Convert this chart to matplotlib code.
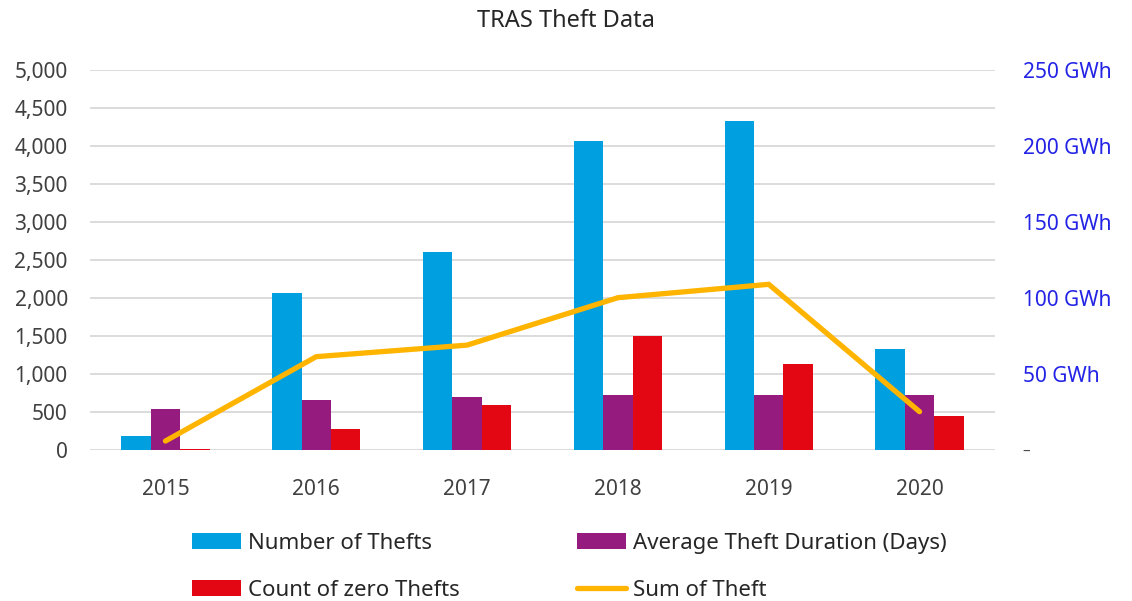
import matplotlib
matplotlib.use("Agg")
import matplotlib.pyplot as plt
from matplotlib.ticker import FuncFormatter, MultipleLocator
import numpy as np

plt.rcParams['font.family'] = ['Noto Sans', 'DejaVu Sans']

# data
years = ['2015', '2016', '2017', '2018', '2019', '2020']
num_thefts = [188, 2061, 2605, 4070, 4333, 1325]
avg_duration = [543, 662, 697, 728, 728, 728]
zero_thefts = [17, 272, 596, 1504, 1132, 443]
sum_theft_gwh = [5.9, 61.4, 69.0, 100.2, 109.0, 25.2]

c_blue = '#009FE0'
c_purple = '#951B7F'
c_red = '#E30613'
c_line = '#FFB400'
c_right = '#2323E6'

fig = plt.figure(figsize=(11.32, 6.01), dpi=100)
ax = fig.add_axes([90 / 1132, 1 - 450 / 601, 905 / 1132, 380 / 601])
ax2 = ax.twinx()

x = np.arange(len(years))
w = 0.195
b1 = ax.bar(x - w, num_thefts, w, color=c_blue, zorder=2)
b2 = ax.bar(x, avg_duration, w, color=c_purple, zorder=2)
b3 = ax.bar(x + w, zero_thefts, w, color=c_red, zorder=2)
ln, = ax2.plot(x, sum_theft_gwh, color=c_line, lw=3.8, solid_capstyle='round',
               solid_joinstyle='miter', zorder=3)

ax.set_xlim(-0.5, len(years) - 0.5)
ax.set_ylim(0, 5000)
ax2.set_ylim(0, 250)
ax.yaxis.set_major_locator(MultipleLocator(500))
ax2.yaxis.set_major_locator(MultipleLocator(50))
ax.yaxis.set_major_formatter(FuncFormatter(lambda v, p: f"{v:,.0f}"))
ax2.yaxis.set_major_formatter(FuncFormatter(lambda v, p: "–" if v == 0 else f"{v:.0f} GWh"))

ax.grid(axis='y', color='#D9D9D9', lw=1.3, zorder=0)
ax.set_axisbelow(True)
for a in (ax, ax2):
    for s in a.spines.values():
        s.set_visible(False)
ax.set_xticks(x)
ax.set_xticklabels(years)
ax.tick_params(axis='x', length=0, pad=21, labelsize=15, colors='#404040')
ax.tick_params(axis='y', length=0, pad=16, labelsize=15, colors='#404040')
ax2.tick_params(axis='y', length=0, pad=20, labelsize=15, colors=c_right)
ax2.set_zorder(ax.get_zorder() + 1)
ax2.patch.set_visible(False)

fig.canvas.draw()
for t in ax2.get_yticklabels():
    if t.get_text() == "–":
        t.set_color('#404040')
        t.set_fontsize(11)

fig.text(0.5, 1 - 21 / 601, 'TRAS Theft Data', ha='center', va='center',
         fontsize=17, color='#262626')

handles = [b1, b3, b2, ln]
labels = ['Number of Thefts', 'Count of zero Thefts',
          'Average Theft Duration (Days)', 'Sum of Theft']
fig.legend(handles, labels, ncol=2, loc='upper left',
           bbox_to_anchor=(172 / 1132, 1 - 513 / 601), frameon=False,
           fontsize=16, handlelength=2.2, handleheight=0.72, handletextpad=0.3,
           columnspacing=5.3, labelspacing=1.17, labelcolor='#262626')

fig.savefig('out.png', dpi=100)
